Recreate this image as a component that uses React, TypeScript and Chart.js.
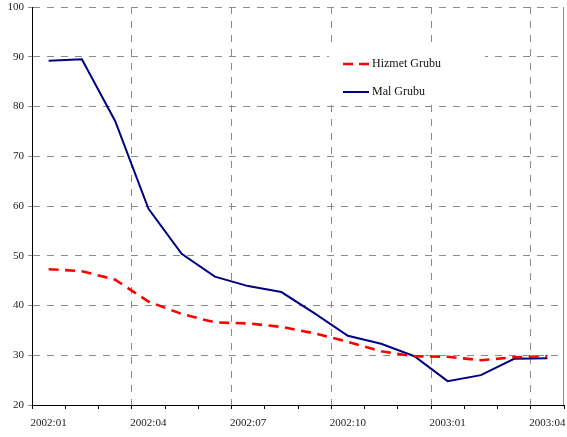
import React, { useEffect, useRef } from 'react';
import { Chart, registerables } from 'chart.js';

Chart.register(...registerables);

const months = [
  '2002:01', '2002:02', '2002:03', '2002:04', '2002:05', '2002:06', '2002:07', '2002:08',
  '2002:09', '2002:10', '2002:11', '2002:12', '2003:01', '2003:02', '2003:03', '2003:04',
];
const hizmetGrubu = [47.3, 46.9, 45.2, 40.8, 38.3, 36.6, 36.4, 35.7, 34.4, 32.7, 30.8, 29.8, 29.7, 29.0, 29.6, 29.8];
const malGrubu = [89.2, 89.5, 77.1, 59.5, 50.4, 45.8, 43.9, 42.7, 38.4, 33.9, 32.3, 29.8, 24.8, 26.0, 29.3, 29.4];
const yMin = 20;
const yMax = 100;
const yStep = 10;
const labelEvery = 3;

const SERIF = "'Liberation Serif', 'Times New Roman', serif";
const GRID = '#8a8a8a';
const GRID_DASH = [7, 7];

const legendPlugin = {
  id: 'boxLegend',
  afterDraw(chart: any) {
    const { ctx, chartArea } = chart;
    const left = chartArea.left;
    const top = chartArea.top;
    ctx.save();
    // right border
    ctx.strokeStyle = GRID;
    ctx.lineWidth = 1;
    ctx.setLineDash([]);
    ctx.beginPath();
    ctx.moveTo(chartArea.right - 0.5, chartArea.top);
    ctx.lineTo(chartArea.right - 0.5, chartArea.bottom);
    ctx.stroke();
    // legend box
    ctx.fillStyle = '#ffffff';
    ctx.fillRect(left + 297, top + 39, 156, 58);
    const items = [
      { text: 'Hizmet Grubu', color: '#ff0000', dash: [10, 6], width: 2.5, y: top + 57 },
      { text: 'Mal Grubu', color: '#000080', dash: [], width: 2, y: top + 85 },
    ];
    ctx.font = `12px ${SERIF}`;
    ctx.textBaseline = 'middle';
    ctx.textAlign = 'left';
    for (const it of items) {
      ctx.strokeStyle = it.color;
      ctx.lineWidth = it.width;
      ctx.setLineDash(it.dash);
      ctx.beginPath();
      ctx.moveTo(left + 311, it.y);
      ctx.lineTo(left + 337, it.y);
      ctx.stroke();
      ctx.setLineDash([]);
      ctx.fillStyle = '#111';
      ctx.fillText(it.text, left + 340, it.y);
    }
    ctx.restore();
  },
};

export default function App() {
  const ref = useRef<HTMLCanvasElement | null>(null);

  useEffect(() => {
    if (!ref.current) return;
    Chart.defaults.font.family = SERIF;
    const chart = new Chart(ref.current, {
      type: 'line',
      data: {
        labels: months,
        datasets: [
          {
            label: 'Hizmet Grubu',
            data: hizmetGrubu,
            borderColor: '#ff0000',
            borderWidth: 2.6,
            borderDash: [10, 6.5],
            pointRadius: 0,
            tension: 0,
            fill: false,
          },
          {
            label: 'Mal Grubu',
            data: malGrubu,
            borderColor: '#000080',
            borderWidth: 2,
            pointRadius: 0,
            tension: 0,
            fill: false,
          },
        ],
      },
      options: {
        responsive: false,
        animation: false,
        layout: { padding: { top: 7, right: 3, left: 0, bottom: 0 } },
        plugins: {
          legend: { display: false },
          tooltip: { enabled: false },
        },
        scales: {
          x: {
            type: 'category',
            offset: true,
            afterFit: (s: any) => { s.height = 32; s.paddingLeft = 0; s.paddingRight = 0; },
            grid: {
              offset: true,
              drawOnChartArea: true,
              color: (c: any) => (c.index % labelEvery === 0 && c.index > 0 && c.index < months.length ? GRID : 'rgba(0,0,0,0)'),
              lineWidth: 1,
              tickColor: '#000',
              tickLength: 4,
              tickWidth: 1,
            },
            border: { display: true, color: '#000', width: 1, dash: GRID_DASH },
            ticks: {
              autoSkip: false,
              maxRotation: 0,
              minRotation: 0,
              padding: 8,
              color: '#222',
              font: { size: 11, family: SERIF },
              callback: (_v: any, i: number) => (i % labelEvery === 0 ? months[i] : ''),
            },
          },
          y: {
            min: yMin,
            max: yMax,
            afterFit: (s: any) => { s.width = 32; s.paddingTop = 0; s.paddingBottom = 0; },
            grid: {
              color: GRID,
              lineWidth: 1,
              tickColor: GRID,
              tickLength: 4,
            },
            border: { display: true, color: '#000', width: 1, dash: GRID_DASH },
            ticks: {
              stepSize: yStep,
              padding: 4,
              color: '#222',
              font: { size: 11, family: SERIF },
            },
          },
        },
      },
      plugins: [legendPlugin],
    });
    return () => chart.destroy();
  }, []);

  return (
    <div style={{ position: 'fixed', left: 0, top: 0, width: 567, height: 437, background: '#fff' }}>
      <canvas ref={ref} width={567} height={437} style={{ display: 'block' }} />
    </div>
  );
}
